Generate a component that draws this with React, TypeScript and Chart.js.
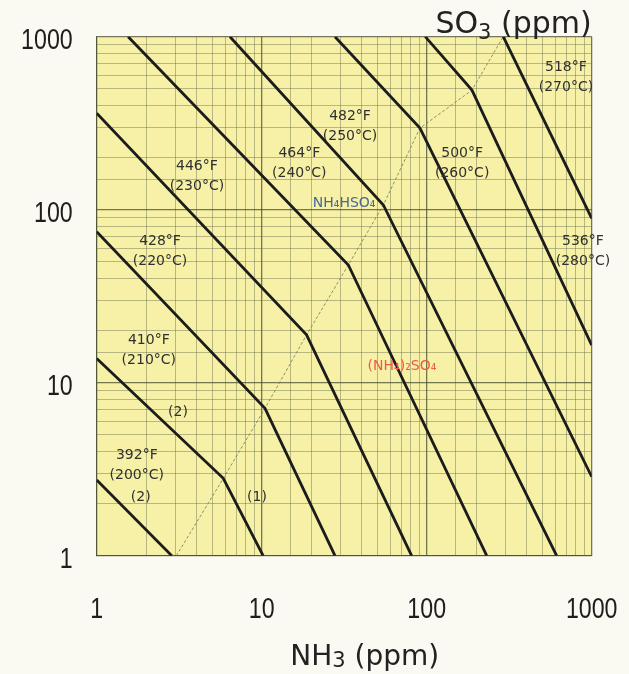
import React, { useEffect, useRef } from "react";
import { Chart, registerables } from "chart.js";

Chart.register(...registerables);

// ---- Data (NH3 ppm on x, SO3 ppm on y) ----
const nh3_392 = [1, 2.85];
const so3_392 = [2.74, 1];
const nh3_410 = [1, 5.85, 10.2];
const so3_410 = [13.8, 2.8, 1];
const nh3_428 = [1, 10.47, 27.8];
const so3_428 = [74.5, 7.11, 1];
const nh3_446 = [1, 18.7, 81];
const so3_446 = [361, 18.9, 1];
const nh3_464 = [1.55, 33.5, 231];
const so3_464 = [1000, 47.9, 1];
const nh3_482 = [6.42, 54.6, 613];
const so3_482 = [1000, 106.5, 1];
const nh3_500 = [27.8, 91, 1000];
const so3_500 = [1000, 296, 2.86];
const nh3_518 = [98, 188, 1000];
const so3_518 = [1000, 491, 16.5];
const nh3_536 = [291, 1000];
const so3_536 = [1000, 89];

// boundary between NH4HSO4 (2) and (NH4)2SO4 (1) regions
const nh3_boundary = [3.04, 5.85, 10.47, 18.7, 33.5, 54.6, 91, 188, 291];
const so3_boundary = [1, 2.8, 7.11, 18.9, 47.9, 106.5, 296, 491, 1000];

const tempSeries = [
  { name: "392°F", x: nh3_392, y: so3_392 },
  { name: "410°F", x: nh3_410, y: so3_410 },
  { name: "428°F", x: nh3_428, y: so3_428 },
  { name: "446°F", x: nh3_446, y: so3_446 },
  { name: "464°F", x: nh3_464, y: so3_464 },
  { name: "482°F", x: nh3_482, y: so3_482 },
  { name: "500°F", x: nh3_500, y: so3_500 },
  { name: "518°F", x: nh3_518, y: so3_518 },
  { name: "536°F", x: nh3_536, y: so3_536 },
];

// tick labels
const majorTicks = [1, 10, 100, 1000];
const tickLabels = ["1", "10", "100", "1000"];

// annotation texts and their anchor positions (data coords)
const labelTexts = [
  ["392°F", "(200°C)"],
  ["(2)"],
  ["410°F", "(210°C)"],
  ["(2)"],
  ["(1)"],
  ["428°F", "(220°C)"],
  ["446°F", "(230°C)"],
  ["464°F", "(240°C)"],
  ["482°F", "(250°C)"],
  ["500°F", "(260°C)"],
  ["518°F", "(270°C)"],
  ["536°F", "(280°C)"],
];
const labelNh3 = [1.75, 1.85, 2.07, 3.11, 9.37, 2.42, 4.05, 16.9, 34.3, 164, 698, 885];
const labelSo3 = [3.32, 2.18, 15.3, 6.77, 2.18, 57.7, 155.6, 186, 305, 185, 585, 57.7];

const compoundTexts = ["NH₄HSO₄", "(NH₄)₂SO₄"];
const compoundNh3 = [31.6, 70.8];
const compoundSo3 = [109, 12.5];
const compoundColors = ["#4b6894", "#ef5a44"];

const W = 629;
const H = 674;

function isMajor(v: number) {
  return majorTicks.some((m) => Math.abs(v - m) < 1e-6);
}

function drawComposite(
  ctx: CanvasRenderingContext2D,
  segs: { t: string; size: number; dy: number }[],
  x: number,
  y: number,
  align: "center" | "right"
) {
  const family = "'DejaVu Sans', Verdana, sans-serif";
  let total = 0;
  const widths = segs.map((s) => {
    ctx.font = `${s.size}px ${family}`;
    const w = ctx.measureText(s.t).width;
    total += w;
    return w;
  });
  let cx = align === "center" ? x - total / 2 : x - total;
  ctx.textAlign = "left";
  ctx.textBaseline = "alphabetic";
  segs.forEach((s, i) => {
    ctx.font = `${s.size}px ${family}`;
    ctx.fillText(s.t, cx, y + s.dy);
    cx += widths[i];
  });
}

const bgPlugin = {
  id: "bg",
  beforeDraw(chart: any) {
    const { ctx, chartArea } = chart;
    ctx.save();
    ctx.fillStyle = "#fbfaf2";
    ctx.fillRect(0, 0, chart.width, chart.height);
    ctx.fillStyle = "#f6f1a7";
    ctx.fillRect(
      chartArea.left,
      chartArea.top,
      chartArea.right - chartArea.left,
      chartArea.bottom - chartArea.top
    );
    ctx.restore();
  },
};

function drawNarrow(ctx: CanvasRenderingContext2D, t: string, x: number, y: number, align: "center" | "right") {
  const sx = 0.8;
  ctx.save();
  ctx.translate(x, y);
  ctx.scale(sx, 1);
  ctx.textAlign = align;
  ctx.textBaseline = "middle";
  ctx.fillText(t, 0, 0);
  ctx.restore();
}

const textPlugin = {
  id: "texts",
  afterDatasetsDraw(chart: any) {
    const { ctx, chartArea } = chart;
    const xs = chart.scales.x;
    const ys = chart.scales.y;
    ctx.save();

    // tick labels through the scales
    ctx.fillStyle = "#1e1e1e";
    ctx.font = "29px 'Liberation Sans', Arial, sans-serif";
    majorTicks.forEach((v, i) => {
      drawNarrow(ctx, tickLabels[i], chartArea.left - 24, ys.getPixelForValue(v) + 4, "right");
      drawNarrow(ctx, tickLabels[i], xs.getPixelForValue(v), chartArea.bottom + 54, "center");
    });

    ctx.fillStyle = "#303030";
    ctx.textAlign = "center";
    ctx.textBaseline = "middle";
    ctx.font = "14px 'DejaVu Sans', Verdana, sans-serif";
    const lh = 20;
    labelTexts.forEach((lines, i) => {
      const px = xs.getPixelForValue(labelNh3[i]);
      const py = ys.getPixelForValue(labelSo3[i]);
      lines.forEach((t, j) => {
        ctx.fillText(t, px, py - ((lines.length - 1) * lh) / 2 + j * lh);
      });
    });
    ctx.font = "14px 'DejaVu Sans', Verdana, sans-serif";
    compoundTexts.forEach((t, i) => {
      ctx.fillStyle = compoundColors[i];
      ctx.fillText(t, xs.getPixelForValue(compoundNh3[i]), ys.getPixelForValue(compoundSo3[i]));
    });

    // axis titles
    ctx.fillStyle = "#222";
    drawComposite(
      ctx,
      [
        { t: "NH", size: 28, dy: 0 },
        { t: "3", size: 21, dy: 2 },
        { t: " (ppm)", size: 28, dy: 0 },
      ],
      chartArea.left + 268,
      chartArea.bottom + 109,
      "center"
    );
    drawComposite(
      ctx,
      [
        { t: "SO", size: 30, dy: 0 },
        { t: "3", size: 21, dy: 6 },
        { t: " (ppm)", size: 30, dy: 0 },
      ],
      chartArea.right,
      chartArea.top - 4,
      "right"
    );
    ctx.restore();
  },
};

function gridColor(ctx: any) {
  const v = ctx.tick ? ctx.tick.value : 0;
  return isMajor(v) ? "rgba(70,78,50,0.75)" : "rgba(95,100,70,0.42)";
}
function gridWidth(ctx: any) {
  const v = ctx.tick ? ctx.tick.value : 0;
  return isMajor(v) ? 1.3 : 1;
}

export default function App() {
  const ref = useRef<HTMLCanvasElement | null>(null);

  useEffect(() => {
    if (!ref.current) return;
    const datasets: any[] = tempSeries.map((s) => ({
      label: s.name,
      data: s.x.map((x, i) => ({ x, y: s.y[i] })),
      showLine: true,
      borderColor: "#1c1c1c",
      borderWidth: 2.8,
      pointRadius: 0,
      fill: false,
      tension: 0,
    }));
    datasets.push({
      label: "boundary",
      data: nh3_boundary.map((x, i) => ({ x, y: so3_boundary[i] })),
      showLine: true,
      borderColor: "rgba(120,128,95,0.85)",
      borderWidth: 1,
      borderDash: [3, 2],
      pointRadius: 0,
      fill: false,
      tension: 0,
    });

    const chart = new Chart(ref.current, {
      type: "scatter",
      data: { datasets },
      options: {
        responsive: false,
        animation: false,
        layout: { padding: { left: 0, top: 36.7, right: 37.3, bottom: 0 } },
        plugins: {
          legend: { display: false },
          tooltip: { enabled: false },
          title: { display: false },
        },
        scales: {
          x: {
            type: "logarithmic",
            min: 1,
            max: 1000,
            afterFit: (s: any) => {
              s.height = H - 555.7;
              s.paddingLeft = 0;
              s.paddingRight = 0;
            },
            grid: { color: gridColor, lineWidth: gridWidth, drawTicks: false },
            border: { display: true, color: "rgba(70,78,50,0.8)", width: 1 },
            ticks: {
              display: false,
              autoSkip: false,
              callback: (v: any) => (isMajor(Number(v)) ? String(Number(v)) : ""),
            },
          },
          y: {
            type: "logarithmic",
            min: 1,
            max: 1000,
            afterFit: (s: any) => {
              s.width = 96.7;
              s.paddingTop = 0;
              s.paddingBottom = 0;
            },
            grid: { color: gridColor, lineWidth: gridWidth, drawTicks: false },
            border: { display: true, color: "rgba(70,78,50,0.8)", width: 1 },
            ticks: {
              display: false,
              autoSkip: false,
              callback: (v: any) => (isMajor(Number(v)) ? String(Number(v)) : ""),
            },
          },
        },
      },
      plugins: [bgPlugin, textPlugin],
    });
    return () => chart.destroy();
  }, []);

  return (
    <div style={{ position: "fixed", left: 0, top: 0, width: W, height: H, background: "#fbfaf2" }}>
      <canvas ref={ref} width={W} height={H} style={{ display: "block", width: W, height: H }} />
    </div>
  );
}
